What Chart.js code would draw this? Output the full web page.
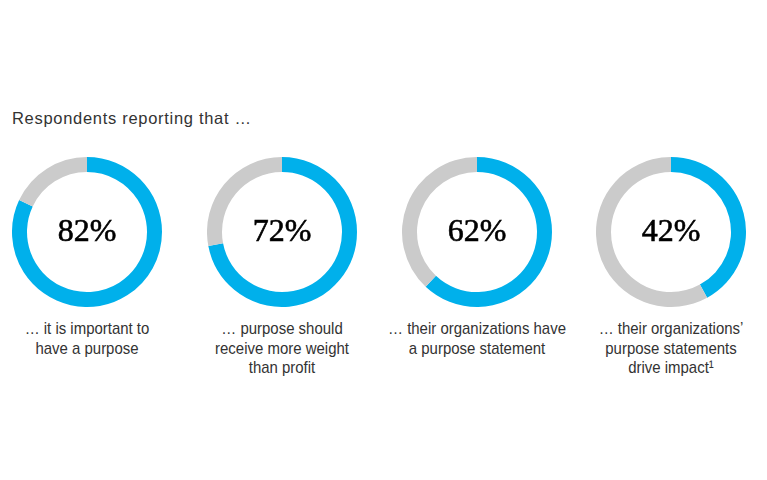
<!DOCTYPE html>
<html>
<head>
<meta charset="utf-8">
<script src="https://cdn.jsdelivr.net/npm/chart.js@4"></script>
<style>
  body { margin: 0; background: #fff; }
  #wrap { position: relative; width: 767px; height: 480px; overflow: hidden; }
  #title { position: absolute; left: 12px; top: 109px; font: 16.5px "Liberation Sans", Arial, sans-serif; letter-spacing: 0.7px; color: #333; }
  .donut { position: absolute; top: 157px; width: 150px; height: 150px; }
  .lbl { position: absolute; top: 319px; width: 220px; text-align: center;
         font: 17px "Liberation Sans", Arial, sans-serif; line-height: 19.5px; color: #333;
         transform: scaleX(0.88); transform-origin: 50% 0; }
</style>
</head>
<body>
<div id="wrap">
  <div id="title">Respondents reporting that …</div>
</div>
<script>
var shares = [82, 72, 62, 42];
var labels = [
  ['… it is important to', 'have a purpose'],
  ['… purpose should', 'receive more weight', 'than profit'],
  ['… their organizations have', 'a purpose statement'],
  ['… their organizations\u2019', 'purpose statements', 'drive impact\u00b9']
];
var centersX = [87, 282, 477, 671];

var blue = '#00b0eb';
var grey = '#cbcbcb';

// draws the percentage in the hole
var centerText = {
  id: 'centerText',
  afterDraw: function(chart) {
    var ctx = chart.ctx;
    var meta = chart.getDatasetMeta(0).data[0];
    var txt = chart.data.datasets[0].data[0] + '%';
    ctx.save();
    ctx.font = '32px "Liberation Serif", "Times New Roman", serif';
    ctx.fillStyle = '#000';
    ctx.strokeStyle = '#000';
    ctx.lineWidth = 0.6;
    ctx.textAlign = 'center';
    ctx.textBaseline = 'middle';
    ctx.fillText(txt, meta.x, meta.y + 1);
    ctx.strokeText(txt, meta.x, meta.y + 1);
    ctx.restore();
  }
};

var wrap = document.getElementById('wrap');
shares.forEach(function(v, i){
  var box = document.createElement('div');
  box.className = 'donut';
  box.style.left = (centersX[i] - 75) + 'px';
  var cv = document.createElement('canvas');
  box.appendChild(cv);
  wrap.appendChild(box);

  var lbl = document.createElement('div');
  lbl.className = 'lbl';
  lbl.style.left = (centersX[i] - 110) + 'px';
  lbl.innerHTML = labels[i].join('<br>');
  wrap.appendChild(lbl);

  new Chart(cv, {
    type: 'doughnut',
    data: {
      labels: ['yes', 'other'],
      datasets: [{
        data: [v, 100 - v],
        backgroundColor: [blue, grey],
        borderWidth: 0
      }]
    },
    options: {
      responsive: true,
      maintainAspectRatio: false,
      animation: false,
      cutout: '80%',
      layout: { padding: 0 },
      plugins: { legend: { display: false }, tooltip: { enabled: false } }
    },
    plugins: [centerText]
  });
});
</script>
</body>
</html>
